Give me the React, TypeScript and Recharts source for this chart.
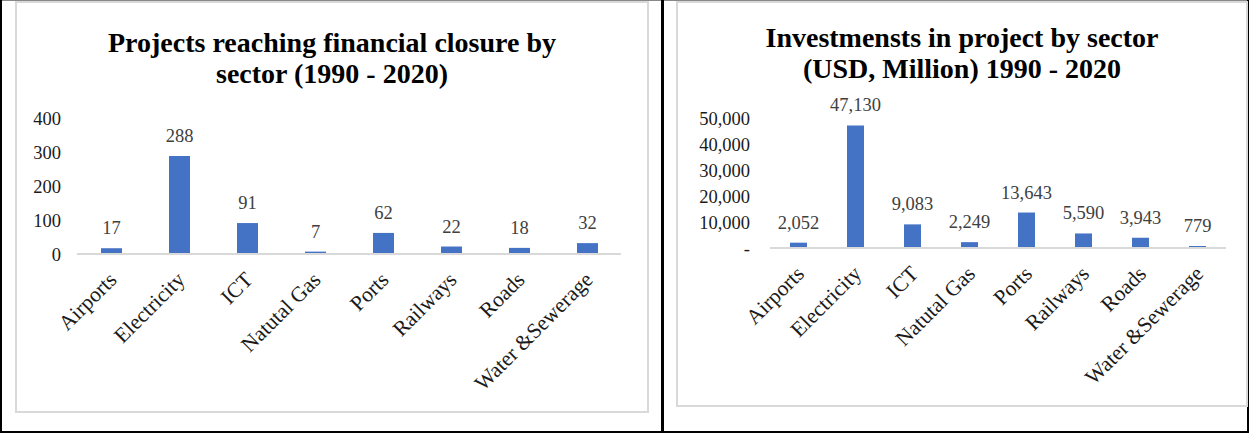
import { BarChart, Bar, XAxis, YAxis, LabelList } from 'recharts';

const sectors = ['Airports', 'Electricity', 'ICT', 'Natutal Gas', 'Ports', 'Railways', 'Roads', 'Water &Sewerage'];
const projectCounts = [17, 288, 91, 7, 62, 22, 18, 32];
const investmentUsd = [2052, 47130, 9083, 2249, 13643, 5590, 3943, 779];
const projectTicks = [0, 100, 200, 300, 400];
const investmentTicks = [0, 10000, 20000, 30000, 40000, 50000];

const FONT = '"Liberation Serif", "Times New Roman", serif';
const BAR_COLOR = '#4472C4';
const GRID = '#d9d9d9';

const projectsData = sectors.map((name, i) => ({ name, value: projectCounts[i] }));
const investData = sectors.map((name, i) => ({ name, value: investmentUsd[i] }));

const fmt = (v: number) => (v === 0 ? '-' : v.toLocaleString('en-US'));

// rotated category label, end of text sits just right of the tick
const XTick = (props: any) => {
  const { x, y, payload } = props;
  return (
    <g transform={`translate(${x + 7},${y + 27}) rotate(-45)`}>
      <text x={0} y={0} textAnchor="end" fontFamily={FONT} fontSize={21.5} fill="#1a1a1a">
        {payload.value}
      </text>
    </g>
  );
};

const Box = ({ left, top, width, height }: any) => (
  <div
    style={{
      position: 'absolute',
      left,
      top,
      width,
      height,
      border: `2px solid ${GRID}`,
      boxSizing: 'border-box',
    }}
  />
);

const Title = ({ left, top, width, lines }: any) => (
  <div
    style={{
      position: 'absolute',
      left,
      top,
      width,
      textAlign: 'center',
      fontFamily: FONT,
      fontWeight: 'bold',
      fontSize: 28,
      lineHeight: '31px',
      color: '#000',
    }}
  >
    {lines.map((l: string) => (
      <div key={l}>{l}</div>
    ))}
  </div>
);

const App = () => {
  return (
    <div style={{ position: 'absolute', left: 0, top: 0, width: 1249, height: 433, background: '#fff', overflow: 'hidden' }}>
      {/* table frame */}
      <div style={{ position: 'absolute', left: 0, top: 0, width: 1249, height: 1, background: '#888' }} />
      <div style={{ position: 'absolute', left: 0, top: 0, width: 2, height: 433, background: '#000' }} />
      <div style={{ position: 'absolute', left: 661, top: 0, width: 3, height: 433, background: '#000' }} />
      <div style={{ position: 'absolute', left: 1247, top: 0, width: 2, height: 433, background: '#000' }} />
      <div style={{ position: 'absolute', left: 0, top: 431, width: 1249, height: 2, background: '#000' }} />

      <Box left={15} top={1} width={634} height={412} />
      <Box left={676} top={1} width={572} height={406} />

      <Title left={16} top={27} width={632} lines={['Projects reaching financial closure by', 'sector (1990 - 2020)']} />
      <Title left={677} top={22} width={570} lines={['Investmensts in project by sector', '(USD, Million) 1990 - 2020']} />

      <div style={{ position: 'absolute', left: 16, top: 88 }}>
        <BarChart width={632} height={322} data={projectsData} margin={{ top: 30, right: 27, bottom: 0, left: 0 }}>
          <XAxis
            dataKey="name"
            interval={0}
            height={156}
            tickSize={0}
            tickMargin={0}
            tickLine={false}
            axisLine={{ stroke: GRID, strokeWidth: 2 }}
            tick={<XTick />}
          />
          <YAxis
            domain={[0, 400]}
            ticks={projectTicks}
            interval={0}
            width={61}
            axisLine={false}
            tickLine={false}
            tickSize={0}
            tickMargin={16}
            tick={{ fontFamily: FONT, fontSize: 18.5, fill: '#1a1a1a' }}
          />
          <Bar dataKey="value" fill={BAR_COLOR} barSize={21} isAnimationActive={false}>
            <LabelList
              dataKey="value"
              position="top"
              offset={14}
              style={{ fontFamily: FONT, fontSize: 18.5, fill: '#404040' }}
            />
          </Bar>
        </BarChart>
      </div>

      <div style={{ position: 'absolute', left: 677, top: 88 }}>
        <BarChart width={570} height={318} data={investData} margin={{ top: 30, right: 21, bottom: 0, left: 0 }}>
          <XAxis
            dataKey="name"
            interval={0}
            height={158}
            tickSize={0}
            tickMargin={0}
            tickLine={false}
            axisLine={{ stroke: GRID, strokeWidth: 2 }}
            tick={<XTick />}
          />
          <YAxis
            domain={[0, 50000]}
            ticks={investmentTicks}
            interval={0}
            width={93}
            axisLine={false}
            tickLine={false}
            tickSize={0}
            tickMargin={20}
            tickFormatter={fmt}
            tick={{ fontFamily: FONT, fontSize: 18.5, fill: '#1a1a1a' }}
          />
          <Bar dataKey="value" fill={BAR_COLOR} barSize={17} isAnimationActive={false}>
            <LabelList
              dataKey="value"
              position="top"
              offset={14}
              formatter={(v: any) => fmt(Number(v))}
              style={{ fontFamily: FONT, fontSize: 18.5, fill: '#404040' }}
            />
          </Bar>
        </BarChart>
      </div>
    </div>
  );
};

export default App;
